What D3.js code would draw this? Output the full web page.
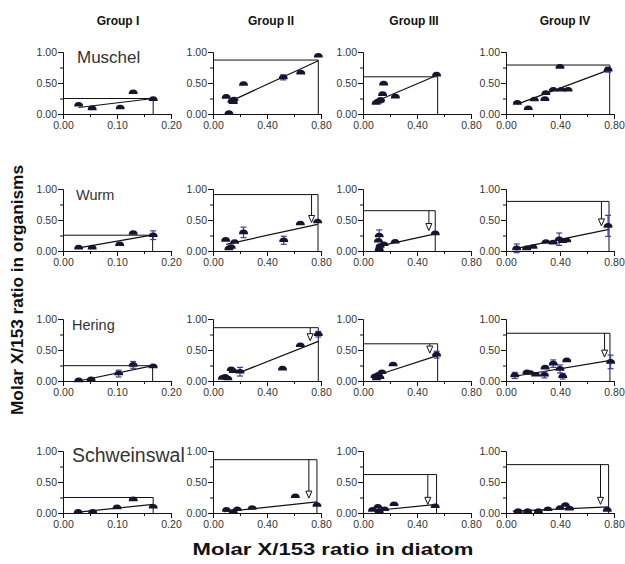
<!DOCTYPE html>
<head>
  <meta charset="utf-8">
  <script src="https://d3js.org/d3.v7.min.js"></script>
  <style>
    body { margin: 0; background: #fff; }
    svg text { font-family: "Liberation Sans", Arial, sans-serif; }
  </style>
</head>
<body>
  <div id="chart"></div>
  <script>
    // columns and rows of the grid
    var groups = ['Group I', 'Group II', 'Group III', 'Group IV'];
    var organisms = ['Muschel', 'Wurm', 'Hering', 'Schweinswal'];

    // x domain max and tick values per column
    var xMax = [0.2, 0.8, 0.8, 0.8];
    var xMajor = [[0, 0.1, 0.2], [0, 0.4, 0.8], [0, 0.4, 0.8], [0, 0.4, 0.8]];
    var xMinor = [[0.05, 0.15], [0.2, 0.6], [0.2, 0.6], [0.2, 0.6]];
    var yMajor = [0, 0.5, 1];
    var yMinor = [0.25, 0.75];

    // points: [x, y, error] (error optional), one list per group
    var muschelPts = [
      [[0.029, 0.15], [0.054, 0.09], [0.106, 0.105], [0.13, 0.35], [0.167, 0.24]],
      [[0.098, 0.276], [0.118, 0.015], [0.14, 0.21, 0.03], [0.155, 0.235], [0.15, 0.19], [0.226, 0.484], [0.52, 0.59, 0.04], [0.65, 0.667], [0.78, 0.94]],
      [[0.153, 0.49], [0.145, 0.32], [0.11, 0.2], [0.097, 0.18], [0.13, 0.23], [0.125, 0.21], [0.24, 0.28], [0.545, 0.635]],
      [[0.084, 0.18], [0.165, 0.093], [0.21, 0.233], [0.288, 0.24], [0.295, 0.337], [0.35, 0.39], [0.4, 0.76], [0.41, 0.39], [0.46, 0.39], [0.756, 0.715, 0.04]]
    ];
    var wurmPts = [
      [[0.029, 0.054], [0.054, 0.054], [0.105, 0.11, 0.02], [0.13, 0.29], [0.167, 0.255, 0.07]],
      [[0.094, 0.18], [0.118, 0.043], [0.135, 0.065], [0.16, 0.146], [0.226, 0.3, 0.085], [0.524, 0.173, 0.065], [0.647, 0.443], [0.775, 0.476]],
      [[0.12, 0.25, 0.09], [0.114, 0.165], [0.126, 0.08], [0.12, 0.03], [0.155, 0.11], [0.238, 0.148], [0.535, 0.285]],
      [[0.079, 0.043, 0.07], [0.153, 0.043], [0.2, 0.065], [0.296, 0.146], [0.35, 0.135], [0.394, 0.19, 0.1], [0.42, 0.16], [0.45, 0.17], [0.756, 0.405, 0.17]]
    ];
    var heringPts = [
      [[0.029, 0.01], [0.052, 0.027], [0.103, 0.12, 0.055], [0.13, 0.26, 0.055], [0.167, 0.236]],
      [[0.07, 0.05], [0.09, 0.066], [0.11, 0.04], [0.135, 0.19], [0.15, 0.16], [0.2, 0.15, 0.07], [0.515, 0.2], [0.647, 0.577], [0.78, 0.755, 0.045]],
      [[0.089, 0.077], [0.114, 0.1], [0.14, 0.14], [0.1, 0.04], [0.125, 0.06], [0.223, 0.267], [0.545, 0.425, 0.055]],
      [[0.065, 0.09, 0.05], [0.155, 0.14], [0.18, 0.128], [0.22, 0.1], [0.285, 0.1, 0.05], [0.29, 0.215], [0.35, 0.28, 0.06], [0.4, 0.195, 0.065], [0.42, 0.077, 0.045], [0.45, 0.333], [0.775, 0.308, 0.11]]
    ];
    var schweinswalPts = [
      [[0.028, 0.02], [0.055, 0.02], [0.1, 0.09], [0.13, 0.22], [0.167, 0.1]],
      [[0.1, 0.05], [0.15, 0.02], [0.18, 0.06], [0.29, 0.08], [0.61, 0.27], [0.77, 0.13]],
      [[0.07, 0.05], [0.11, 0.1], [0.12, 0.03], [0.16, 0.06], [0.23, 0.14], [0.535, 0.11]],
      [[0.09, 0.03], [0.16, 0.03], [0.24, 0.03], [0.31, 0.06], [0.4, 0.08], [0.44, 0.13], [0.47, 0.07], [0.75, 0.05]]
    ];

    // regression lines: [x1, y1, x2, y2]
    var muschelFit = [[0.029, 0.105, 0.167, 0.25], [0.148, 0.224, 0.78, 0.86], [0.145, 0.25, 0.545, 0.62], [0.084, 0.16, 0.768, 0.715]];
    var wurmFit = [[0.029, 0.05, 0.167, 0.26], [0.098, 0.108, 0.775, 0.43], [0.12, 0.08, 0.535, 0.275], [0.079, 0.043, 0.763, 0.35]];
    var heringFit = [[0.029, 0.0, 0.167, 0.247], [0.2, 0.14, 0.78, 0.64], [0.114, 0.1, 0.55, 0.41], [0.065, 0.077, 0.775, 0.333]];
    var schweinswalFit = [[0.029, 0.015, 0.167, 0.14], [0.08, 0.02, 0.77, 0.18], [0.09, 0.04, 0.545, 0.14], [0.05, 0.03, 0.76, 0.1]];

    // reference box: [y level, x end]
    var muschelRef = [[0.25, 0.167], [0.87, 0.78], [0.6, 0.553], [0.79, 0.768]];
    var wurmRef = [[0.255, 0.166], [0.91, 0.778], [0.65, 0.535], [0.8, 0.763]];
    var heringRef = [[0.247, 0.166], [0.86, 0.78], [0.6, 0.553], [0.77, 0.77]];
    var schweinswalRef = [[0.25, 0.167], [0.86, 0.77], [0.62, 0.545], [0.78, 0.76]];

    // down arrows: [x, tip y]
    var muschelArrow = [null, null, null, null];
    var wurmArrow = [null, [0.73, 0.46], [0.488, 0.33], [0.707, 0.405]];
    var heringArrow = [null, [0.72, 0.65], [0.495, 0.45], [0.73, 0.385]];
    var schweinswalArrow = [null, [0.71, 0.24], [0.48, 0.14], [0.7, 0.14]];

    var allPts = [muschelPts, wurmPts, heringPts, schweinswalPts];
    var allFit = [muschelFit, wurmFit, heringFit, schweinswalFit];
    var allRef = [muschelRef, wurmRef, heringRef, schweinswalRef];
    var allArrow = [muschelArrow, wurmArrow, heringArrow, schweinswalArrow];

    // layout
    var width = 625, height = 564;
    var colLeft = [63, 213, 363, 506];
    var rowTop = [52, 189, 319, 451];
    var plotW = 108, plotH = 62;
    var labelLeft = [77, 76, 72, 72];     // row label x
    var labelSize = [17, 14.5, 14.5, 19.5]; // the labels were not typed at one size
    var groupCenter = [118, 271, 414, 565];
    var markColor = '#15152e';
    var errColor = '#3b3bb0';
    var fmt = d3.format('.2f');

    var svg = d3.select('#chart')
      .append('svg')
        .attr('width', width)
        .attr('height', height);

    function draw_panel(r, c) {
      var left = colLeft[c], top = rowTop[r];
      var x = d3.scaleLinear().domain([0, xMax[c]]).range([left, left + plotW]);
      var y = d3.scaleLinear().domain([0, 1]).range([top + plotH, top]);
      var g = svg.append('g');

      // axes, major ticks with labels then minor ticks
      var ya = g.append('g').attr('transform', 'translate(' + left + ',0)')
        .call(d3.axisLeft(y).tickValues(yMajor).tickSize(5).tickSizeOuter(0).tickFormat(fmt));
      g.append('g').attr('transform', 'translate(' + left + ',0)')
        .call(d3.axisLeft(y).tickValues(yMinor).tickSize(3).tickSizeOuter(0).tickFormat(''));
      var xa = g.append('g').attr('transform', 'translate(0,' + (top + plotH) + ')')
        .call(d3.axisBottom(x).tickValues(xMajor[c]).tickSize(5).tickSizeOuter(0).tickFormat(fmt));
      g.append('g').attr('transform', 'translate(0,' + (top + plotH) + ')')
        .call(d3.axisBottom(x).tickValues(xMinor[c]).tickSize(3).tickSizeOuter(0).tickFormat(''));
      g.selectAll('.domain, .tick line').attr('stroke', '#111');
      g.selectAll('.tick text').attr('fill', '#333').style('font-size', '10.5px');
      ya.selectAll('.tick text').attr('x', -6);
      xa.selectAll('.tick text').attr('y', 8);

      // reference box
      var ref = allRef[r][c];
      g.append('path')
        .attr('d', 'M' + x(0) + ',' + y(ref[0]) + 'H' + x(ref[1]) + 'V' + y(0))
        .attr('fill', 'none').attr('stroke', '#111');

      // regression line
      var f = allFit[r][c];
      g.append('line')
        .attr('x1', x(f[0])).attr('y1', y(f[1]))
        .attr('x2', x(f[2])).attr('y2', y(f[3]))
        .attr('stroke', '#111').attr('stroke-width', 1.2);

      var pts = allPts[r][c];
      var eb = pts.filter(d => d.length > 2);
      var err = g.append('g').attr('stroke', errColor).attr('stroke-width', 1.2);
      err.selectAll('line.v').data(eb).join('line')
        .attr('x1', d => x(d[0])).attr('x2', d => x(d[0]))
        .attr('y1', d => y(d[1] - d[2])).attr('y2', d => y(d[1] + d[2]));
      err.selectAll('line.lo').data(eb).join('line')
        .attr('x1', d => x(d[0]) - 3).attr('x2', d => x(d[0]) + 3)
        .attr('y1', d => y(d[1] - d[2])).attr('y2', d => y(d[1] - d[2]));
      err.selectAll('line.hi').data(eb).join('line')
        .attr('x1', d => x(d[0]) - 3).attr('x2', d => x(d[0]) + 3)
        .attr('y1', d => y(d[1] + d[2])).attr('y2', d => y(d[1] + d[2]));

      // dome shaped markers
      g.append('g').selectAll('path').data(pts).join('path')
        .attr('transform', d => 'translate(' + x(d[0]) + ',' + y(d[1]) + ')')
        .attr('d', 'M-4.5,1.8Q-4.5,-2.8 0,-2.8Q4.5,-2.8 4.5,1.8Z')
        .attr('fill', markColor);

      // hollow down arrow
      var a = allArrow[r][c];
      if (a) {
        var ax = x(a[0]), tip = y(a[1]);
        g.append('line')
          .attr('x1', ax).attr('x2', ax)
          .attr('y1', y(ref[0])).attr('y2', tip - 7)
          .attr('stroke', '#111');
        g.append('path')
          .attr('d', 'M' + (ax - 3) + ',' + (tip - 7) + 'H' + (ax + 3) + 'L' + ax + ',' + tip + 'Z')
          .attr('fill', '#fff').attr('stroke', '#111');
      }

      if (c == 0) {
        g.append('text')
          .attr('x', labelLeft[r]).attr('y', top + 11)
          .attr('fill', '#333').style('font-size', labelSize[r] + 'px')
          .text(organisms[r]);
      }
    }

    for (var r = 0; r < organisms.length; r++) {
      for (var c = 0; c < groups.length; c++) {
        draw_panel(r, c);
      }
    }

    // group headers
    svg.selectAll('text.group').data(groups).join('text')
      .attr('class', 'group')
      .attr('x', (d, i) => groupCenter[i])
      .attr('y', 25)
      .attr('text-anchor', 'middle')
      .style('font-size', '12px').style('font-weight', 'bold')
      .attr('fill', '#111')
      .text(d => d);

    // axis titles (the original ones are stretched wide)
    svg.append('text')
      .attr('transform', 'translate(23,290) rotate(-90)')
      .attr('text-anchor', 'middle')
      .attr('textLength', 250).attr('lengthAdjust', 'spacingAndGlyphs')
      .style('font-size', '16px').style('font-weight', 'bold')
      .attr('fill', '#111')
      .text('Molar X/153 ratio in organisms');
    svg.append('text')
      .attr('x', 333).attr('y', 555)
      .attr('text-anchor', 'middle')
      .attr('textLength', 281).attr('lengthAdjust', 'spacingAndGlyphs')
      .style('font-size', '16.5px').style('font-weight', 'bold')
      .attr('fill', '#111')
      .text('Molar X/153 ratio in diatom');
  </script>
</body>
